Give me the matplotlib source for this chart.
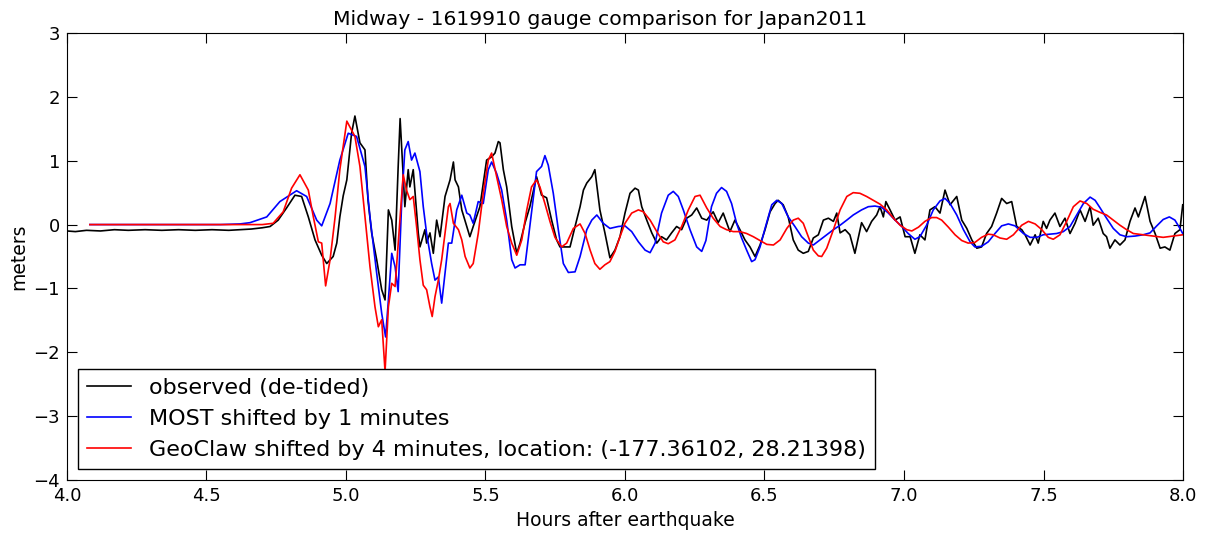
import matplotlib
matplotlib.use("Agg")
import matplotlib.pyplot as plt

# observed (de-tided) gauge record, hours after quake / metres
obs_t = [4.000, 4.030, 4.070, 4.120, 4.170, 4.220, 4.280, 4.340, 4.400, 4.460,
         4.520, 4.580, 4.620, 4.660, 4.700,
         4.728, 4.757, 4.787, 4.817, 4.841, 4.865, 4.889, 4.913, 4.931, 4.954,
         4.967, 4.978, 4.990, 5.003, 5.014, 5.020, 5.032, 5.050, 5.068, 5.079,
         5.092, 5.110, 5.128, 5.140, 5.152, 5.164, 5.176, 5.187, 5.194, 5.211,
         5.223, 5.229, 5.241, 5.259, 5.265, 5.283, 5.289, 5.301, 5.313, 5.325,
         5.337, 5.355, 5.373, 5.385, 5.391, 5.403, 5.415, 5.433, 5.444, 5.456,
         5.480, 5.504, 5.522, 5.534, 5.546, 5.552, 5.564, 5.576, 5.594, 5.612,
         5.624, 5.642, 5.659, 5.683, 5.701, 5.719, 5.737, 5.755, 5.767, 5.803,
         5.821, 5.839, 5.851, 5.863, 5.881, 5.892, 5.910, 5.928, 5.946, 5.964,
         5.982, 6.000, 6.018, 6.036, 6.048, 6.060, 6.078, 6.096, 6.114, 6.131,
         6.149, 6.167, 6.185, 6.203, 6.221, 6.239, 6.257, 6.275, 6.293, 6.316,
         6.334, 6.352, 6.376, 6.394, 6.412, 6.430, 6.448, 6.466, 6.484, 6.502,
         6.520, 6.538, 6.549, 6.567, 6.585, 6.603, 6.621, 6.639, 6.657, 6.675,
         6.693, 6.711, 6.729, 6.747, 6.759, 6.771, 6.789, 6.806, 6.824, 6.848,
         6.866, 6.884, 6.902, 6.914, 6.926, 6.935, 6.950, 6.968, 6.986, 7.004,
         7.022, 7.039, 7.057, 7.075, 7.093, 7.111, 7.129, 7.147, 7.165, 7.189,
         7.207, 7.225, 7.243, 7.261, 7.278, 7.296, 7.314, 7.332, 7.350, 7.368,
         7.386, 7.404, 7.422, 7.434, 7.452, 7.470, 7.481, 7.499, 7.511, 7.523,
         7.541, 7.559, 7.577, 7.595, 7.613, 7.631, 7.649, 7.667, 7.678, 7.696,
         7.714, 7.726, 7.738, 7.756, 7.774, 7.792, 7.810, 7.828, 7.840, 7.852,
         7.864, 7.882, 7.900, 7.918, 7.935, 7.953, 7.971, 7.989, 7.999]
obs_h = [-0.10, -0.11, -0.09, -0.10, -0.08, -0.09, -0.08, -0.09, -0.08, -0.09,
         -0.08, -0.09, -0.08, -0.07, -0.05,
         -0.03, 0.07, 0.26, 0.46, 0.44, 0.12, -0.24, -0.48, -0.61, -0.50,
         -0.29, 0.12, 0.45, 0.70, 1.17, 1.43, 1.70, 1.28, 1.17, 0.38,
         -0.13, -0.55, -1.02, -1.18, 0.23, 0.07, -0.40, 0.90, 1.66, 0.28,
         0.86, 0.59, 0.86, -0.13, -0.35, -0.08, -0.29, -0.13, -0.45, 0.07,
         -0.19, 0.44, 0.70, 0.98, 0.70, 0.59, 0.23, -0.03, -0.19, -0.03,
         0.28, 1.01, 1.06, 1.12, 1.30, 1.28, 0.86, 0.59, -0.03, -0.45,
         -0.29, 0.03, 0.28, 0.75, 0.46, 0.42, 0.07, -0.24, -0.35, -0.35,
         -0.03, 0.28, 0.54, 0.65, 0.75, 0.86, 0.23, -0.13, -0.52, -0.40,
         -0.19, 0.18, 0.49, 0.57, 0.54, 0.28, 0.07, -0.13, -0.29, -0.19,
         -0.24, -0.13, -0.03, -0.08, 0.10, 0.15, 0.26, 0.10, 0.07, 0.20,
         0.03, 0.18, -0.11, 0.07, -0.08, -0.24, -0.35, -0.50, -0.32, -0.08,
         0.20, 0.33, 0.38, 0.31, 0.12, -0.24, -0.40, -0.45, -0.42, -0.21,
         -0.16, 0.07, 0.10, 0.05, 0.18, -0.13, -0.08, -0.16, -0.45, 0.03,
         -0.11, 0.05, 0.15, 0.28, 0.12, 0.36, 0.23, 0.07, 0.12, -0.19,
         -0.19, -0.45, -0.16, -0.24, 0.23, 0.28, 0.18, 0.54, 0.31, 0.44,
         0.07, -0.06, -0.24, -0.37, -0.35, -0.14, -0.03, 0.18, 0.41, 0.33,
         0.36, -0.03, -0.08, -0.16, -0.32, -0.16, -0.29, 0.05, -0.06, 0.07,
         0.18, -0.03, 0.10, -0.14, 0.02, 0.23, 0.05, 0.28, -0.01, 0.10,
         -0.14, -0.19, -0.37, -0.24, -0.32, -0.24, 0.05, 0.26, 0.12, 0.28,
         0.44, 0.05, -0.14, -0.37, -0.35, -0.40, -0.14, -0.08, 0.31]

# MOST model, shifted by 1 minute
most_t = [4.082, 4.550, 4.620, 4.656, 4.716, 4.763, 4.823, 4.859, 4.895, 4.913,
          4.943, 4.978, 5.008, 5.038, 5.068, 5.086, 5.110, 5.128, 5.142, 5.152,
          5.164, 5.176, 5.187, 5.200, 5.211, 5.223, 5.235, 5.247, 5.265, 5.277,
          5.289, 5.307, 5.319, 5.331, 5.343, 5.355, 5.367, 5.379, 5.397, 5.415,
          5.433, 5.444, 5.456, 5.474, 5.492, 5.510, 5.522, 5.540, 5.558, 5.576,
          5.594, 5.606, 5.624, 5.642, 5.659, 5.683, 5.701, 5.713, 5.725, 5.743,
          5.761, 5.779, 5.797, 5.821, 5.839, 5.863, 5.881, 5.899, 5.922, 5.946,
          5.976, 6.000, 6.024, 6.048, 6.072, 6.090, 6.108, 6.131, 6.155, 6.173,
          6.191, 6.209, 6.233, 6.257, 6.275, 6.290, 6.310, 6.328, 6.346, 6.364,
          6.382, 6.400, 6.418, 6.436, 6.454, 6.466, 6.484, 6.502, 6.526, 6.544,
          6.562, 6.585, 6.609, 6.633, 6.657, 6.675, 6.699, 6.723, 6.747, 6.771,
          6.795, 6.818, 6.848, 6.872, 6.896, 6.920, 6.944, 6.968, 6.992, 7.015,
          7.039, 7.057, 7.081, 7.105, 7.129, 7.147, 7.165, 7.189, 7.213, 7.237,
          7.254, 7.278, 7.302, 7.326, 7.350, 7.374, 7.398, 7.428, 7.452, 7.476,
          7.499, 7.523, 7.547, 7.571, 7.595, 7.619, 7.643, 7.667, 7.685, 7.703,
          7.726, 7.750, 7.774, 7.798, 7.828, 7.857, 7.882, 7.906, 7.929, 7.951,
          7.971, 7.989, 7.999]
most_h = [0.00, 0.00, 0.01, 0.03, 0.12, 0.36, 0.53, 0.44, 0.07, -0.02,
          0.33, 1.01, 1.43, 1.38, 0.91, 0.12, -0.76, -1.39, -1.76, -1.18,
          -0.45, -0.66, -1.05, 0.39, 1.17, 1.30, 1.01, 1.12, 0.83, 0.28,
          -0.14, -0.61, -0.87, -0.82, -1.23, -0.76, -0.29, -0.29, 0.23, 0.46,
          0.18, 0.15, 0.02, 0.36, 0.33, 0.86, 0.98, 0.80, 0.54, 0.07,
          -0.55, -0.68, -0.63, -0.63, -0.03, 0.83, 0.91, 1.08, 0.93, 0.49,
          -0.08, -0.61, -0.75, -0.74, -0.50, -0.08, 0.07, 0.15, 0.02, -0.06,
          -0.03, -0.02, -0.11, -0.27, -0.40, -0.44, -0.29, 0.18, 0.46, 0.52,
          0.44, 0.23, -0.08, -0.35, -0.42, -0.25, 0.28, 0.49, 0.58, 0.52,
          0.33, 0.02, -0.21, -0.40, -0.58, -0.55, -0.35, -0.06, 0.31, 0.38,
          0.33, 0.12, -0.03, -0.19, -0.29, -0.32, -0.24, -0.16, -0.08, -0.01,
          0.07, 0.15, 0.23, 0.28, 0.29, 0.27, 0.18, 0.07, -0.03, -0.14,
          -0.23, -0.19, -0.01, 0.23, 0.37, 0.41, 0.33, 0.15, -0.08, -0.27,
          -0.35, -0.34, -0.27, -0.14, -0.02, 0.01, -0.02, -0.14, -0.20, -0.20,
          -0.16, -0.15, -0.14, -0.11, -0.03, 0.15, 0.33, 0.43, 0.38, 0.26,
          0.10, -0.06, -0.16, -0.19, -0.18, -0.16, -0.13, -0.02, 0.08, 0.12,
          0.07, -0.06, -0.14]

# GeoClaw model, shifted by 4 minutes
geo_t = [4.082, 4.600, 4.700, 4.739, 4.775, 4.805, 4.835, 4.865, 4.883, 4.901,
         4.913, 4.927, 4.943, 4.961, 4.978, 5.003, 5.014, 5.032, 5.050, 5.068,
         5.086, 5.104, 5.116, 5.128, 5.140, 5.152, 5.164, 5.176, 5.194, 5.205,
         5.217, 5.229, 5.241, 5.253, 5.265, 5.277, 5.289, 5.301, 5.309, 5.319,
         5.331, 5.343, 5.355, 5.367, 5.373, 5.385, 5.403, 5.415, 5.427, 5.444,
         5.456, 5.474, 5.492, 5.510, 5.522, 5.540, 5.558, 5.576, 5.594, 5.612,
         5.630, 5.648, 5.665, 5.683, 5.695, 5.713, 5.731, 5.749, 5.773, 5.791,
         5.815, 5.839, 5.857, 5.875, 5.892, 5.910, 5.928, 5.946, 5.964, 5.982,
         6.000, 6.024, 6.048, 6.066, 6.090, 6.114, 6.137, 6.155, 6.179, 6.203,
         6.227, 6.251, 6.269, 6.293, 6.316, 6.341, 6.364, 6.388, 6.412, 6.436,
         6.460, 6.484, 6.508, 6.532, 6.556, 6.580, 6.603, 6.621, 6.639, 6.657,
         6.675, 6.693, 6.705, 6.723, 6.747, 6.771, 6.795, 6.818, 6.842, 6.866,
         6.890, 6.914, 6.938, 6.962, 6.986, 7.010, 7.028, 7.052, 7.075, 7.099,
         7.117, 7.135, 7.159, 7.183, 7.207, 7.230, 7.254, 7.278, 7.302, 7.320,
         7.344, 7.368, 7.392, 7.422, 7.446, 7.470, 7.494, 7.517, 7.535, 7.559,
         7.583, 7.607, 7.631, 7.655, 7.678, 7.703, 7.726, 7.750, 7.774, 7.798,
         7.822, 7.857, 7.893, 7.929, 7.965, 7.999]
geo_h = [0.00, 0.00, 0.00, 0.02, 0.20, 0.57, 0.78, 0.54, 0.12, -0.27,
         -0.29, -0.96, -0.55, 0.12, 0.86, 1.62, 1.53, 1.38, 0.91, 0.12,
         -0.66, -1.29, -1.60, -1.49, -2.30, -1.29, -0.92, -0.97, 0.12, 0.78,
         0.54, 0.39, 0.44, -0.03, -0.55, -0.95, -1.02, -1.29, -1.44, -1.13,
         -0.87, -0.55, -0.14, 0.28, 0.33, 0.02, -0.08, -0.24, -0.50, -0.68,
         -0.61, -0.14, 0.49, 1.01, 1.12, 0.75, 0.39, -0.03, -0.29, -0.48,
         -0.24, 0.23, 0.59, 0.70, 0.59, 0.33, 0.05, -0.20, -0.35, -0.29,
         -0.06, 0.01, -0.14, -0.40, -0.61, -0.70, -0.63, -0.58, -0.42, -0.19,
         0.02, 0.18, 0.23, 0.20, 0.07, -0.11, -0.27, -0.30, -0.24, -0.03,
         0.23, 0.44, 0.46, 0.26, 0.10, -0.03, -0.08, -0.11, -0.11, -0.14,
         -0.19, -0.25, -0.31, -0.32, -0.24, -0.06, 0.07, 0.10, 0.02, -0.19,
         -0.40, -0.49, -0.50, -0.37, -0.08, 0.23, 0.44, 0.50, 0.49, 0.44,
         0.38, 0.32, 0.23, 0.10, -0.01, -0.08, -0.10, -0.04, 0.05, 0.11,
         0.11, 0.07, -0.04, -0.16, -0.25, -0.29, -0.28, -0.20, -0.15, -0.16,
         -0.21, -0.23, -0.16, -0.01, 0.05, 0.01, -0.08, -0.20, -0.23, -0.16,
         0.05, 0.28, 0.37, 0.33, 0.24, 0.19, 0.15, 0.07, -0.01, -0.08,
         -0.14, -0.16, -0.18, -0.20, -0.18, -0.16]

labels = ["observed (de-tided)",
          "MOST shifted by 1 minutes",
          "GeoClaw shifted by 4 minutes, location: (-177.36102, 28.21398)"]


def main():
    fig = plt.figure(figsize=(12.09, 5.35), dpi=100)
    ax = fig.add_axes([0.0554, 0.1028, 0.9231, 0.8355])

    ax.plot(obs_t, obs_h, color="k", lw=1.2, label=labels[0])
    ax.plot(most_t, most_h, color="b", lw=1.2, label=labels[1])
    ax.plot(geo_t, geo_h, color="r", lw=1.2, label=labels[2])

    ax.set_xlim(4.0, 8.0)
    ax.set_ylim(-4, 3)
    ax.set_xticks([4.0, 4.5, 5.0, 5.5, 6.0, 6.5, 7.0, 7.5, 8.0])
    ax.set_yticks(range(-4, 4))
    ax.tick_params(direction="in", top=True, right=True, length=7,
                   labelsize=13, pad=5)
    ax.set_xlabel("Hours after earthquake", fontsize=13.5)
    ax.set_ylabel("meters", fontsize=13.5)
    # title sits a little left of the axes centre in the original
    ax.set_title("Midway - 1619910 gauge comparison for Japan2011",
                 fontsize=14.7, x=0.478)

    leg = ax.legend(loc="lower left", fontsize=16, fancybox=False,
                    framealpha=1, borderaxespad=0.5, handlelength=2.0)
    leg.get_frame().set_edgecolor("k")

    fig.savefig("out.png", dpi=100)


if __name__ == "__main__":
    main()
